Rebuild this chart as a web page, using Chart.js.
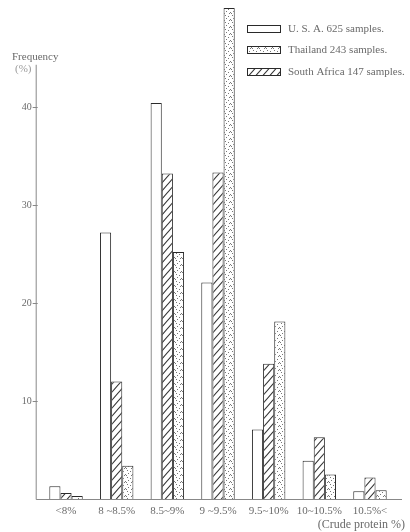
<!DOCTYPE html>
<html>
<head>
<meta charset="utf-8">
<script src="https://cdn.jsdelivr.net/npm/chart.js@4/dist/chart.umd.min.js"></script>
<style>
html,body{margin:0;padding:0;background:#fff;}
#wrap{width:410px;height:532px;position:relative;}
</style>
</head>
<body>
<div id="wrap"><canvas id="c"></canvas></div>
<script>
const categories = ['<8%', '8 ~8.5%', '8.5~9%', '9 ~9.5%', '9.5~10%', '10~10.5%', '10.5%<'];
const usaValues = [1.3, 27.2, 40.4, 22.1, 7.1, 3.9, 0.8];
const southAfricaValues = [0.6, 12.0, 33.2, 33.3, 13.8, 6.3, 2.2];
const thailandValues = [0.3, 3.4, 25.2, 50.1, 18.1, 2.5, 0.9];
const yTickValues = [10, 20, 30, 40];
const seriesLabels = ['U. S. A. 625 samples.', 'South Africa 147 samples.', 'Thailand 243 samples.'];
const legendOrder = [0, 2, 1];

const FONT = '"Liberation Serif", "DejaVu Serif", serif';
const INK = '#2a2a2a';
const TEXT = '#6a6a6a';

function hatchPattern() {
  const w = 7, h = 8;
  const c = document.createElement('canvas');
  c.width = w; c.height = h;
  const g = c.getContext('2d');
  g.fillStyle = '#fff'; g.fillRect(0, 0, w, h);
  g.strokeStyle = '#333'; g.lineWidth = 1.1;
  g.beginPath();
  g.moveTo(0, h); g.lineTo(w, 0);
  g.moveTo(-w, h); g.lineTo(w, -h);
  g.moveTo(0, 2 * h); g.lineTo(2 * w, 0);
  g.stroke();
  return g.createPattern(c, 'repeat');
}
function dotPattern() {
  const s = 7;
  const c = document.createElement('canvas');
  c.width = s; c.height = s;
  const g = c.getContext('2d');
  g.fillStyle = '#fff'; g.fillRect(0, 0, s, s);
  g.fillStyle = '#777';
  [[1, 1], [4, 2], [6, 5], [2, 4], [5, 6], [0, 6]].forEach(p => g.fillRect(p[0], p[1], 1, 1));
  return g.createPattern(c, 'repeat');
}
const fills = ['#ffffff', hatchPattern(), dotPattern()];

const decor = {
  id: 'decor',
  afterDraw(chart) {
    const ctx = chart.ctx;
    const ca = chart.chartArea;
    const y = chart.scales.y;
    const ax = ca.left - 5;
    const y0 = y.getPixelForValue(0);
    ctx.save();
    ctx.strokeStyle = '#888';
    ctx.lineWidth = 1;
    ctx.beginPath();
    ctx.moveTo(ax + 0.5, y.getPixelForValue(44.3));
    ctx.lineTo(ax + 0.5, y0 + 0.5);
    ctx.lineTo(chart.width - 8, y0 + 0.5);
    yTickValues.forEach(v => {
      const py = Math.round(y.getPixelForValue(v)) + 0.5;
      ctx.moveTo(ax - 3, py); ctx.lineTo(ax + 2, py);
    });
    ctx.stroke();

    ctx.fillStyle = TEXT;
    ctx.font = '11px ' + FONT;
    ctx.textBaseline = 'middle';
    ctx.textAlign = 'left';
    ctx.fillText('Frequency', 12, 57);
    ctx.fillStyle = '#9a9a9a';
    ctx.fillText('(%)', 15, 69);
    ctx.fillStyle = TEXT;
    ctx.font = '12px ' + FONT;
    ctx.textAlign = 'right';
    ctx.fillText('(Crude protein %)', 405, 525);

    // legend
    ctx.textAlign = 'left';
    ctx.font = '11px ' + FONT;
    const rows = [29, 50, 72];
    legendOrder.forEach((di, i) => {
      const ds = chart.data.datasets[di];
      const top = rows[i] - 4;
      ctx.fillStyle = ds.backgroundColor;
      ctx.fillRect(247, top, 34, 8);
      ctx.strokeStyle = INK;
      ctx.strokeRect(247.5, top + 0.5, 33, 7);
      ctx.fillStyle = TEXT;
      ctx.fillText(ds.label, 288, rows[i]);
    });
    ctx.restore();
  }
};

function zeroPad(s) { s.paddingTop = 0; s.paddingBottom = 0; s.paddingLeft = 0; s.paddingRight = 0; }

new Chart(document.getElementById('c'), {
  type: 'bar',
  data: {
    labels: categories,
    datasets: [
      { label: seriesLabels[0], data: usaValues, backgroundColor: fills[0] },
      { label: seriesLabels[1], data: southAfricaValues, backgroundColor: fills[1] },
      { label: seriesLabels[2], data: thailandValues, backgroundColor: fills[2] }
    ]
  },
  options: {
    responsive: true,
    maintainAspectRatio: false,
    animation: false,
    layout: { padding: { top: 4, right: 14.7, left: 0, bottom: 0 } },
    datasets: {
      bar: { categoryPercentage: 0.66, barPercentage: 1.0, borderWidth: 1, borderColor: INK, borderSkipped: 'bottom' }
    },
    plugins: { legend: { display: false }, tooltip: { enabled: false } },
    scales: {
      x: {
        grid: { display: false, drawTicks: false },
        border: { display: false },
        ticks: { color: TEXT, font: { family: FONT, size: 11 }, padding: 6, maxRotation: 0, autoSkip: false },
        afterFit(s) { s.height = 33; zeroPad(s); }
      },
      y: {
        min: 0,
        max: 50.5,
        grid: { display: false, drawTicks: false },
        border: { display: false },
        ticks: { color: TEXT, font: { family: FONT, size: 10 }, padding: 9 },
        afterBuildTicks(s) { s.ticks = yTickValues.map(v => ({ value: v })); },
        afterFit(s) { s.width = 40.7; zeroPad(s); }
      }
    }
  },
  plugins: [decor]
});
</script>
</body>
</html>
